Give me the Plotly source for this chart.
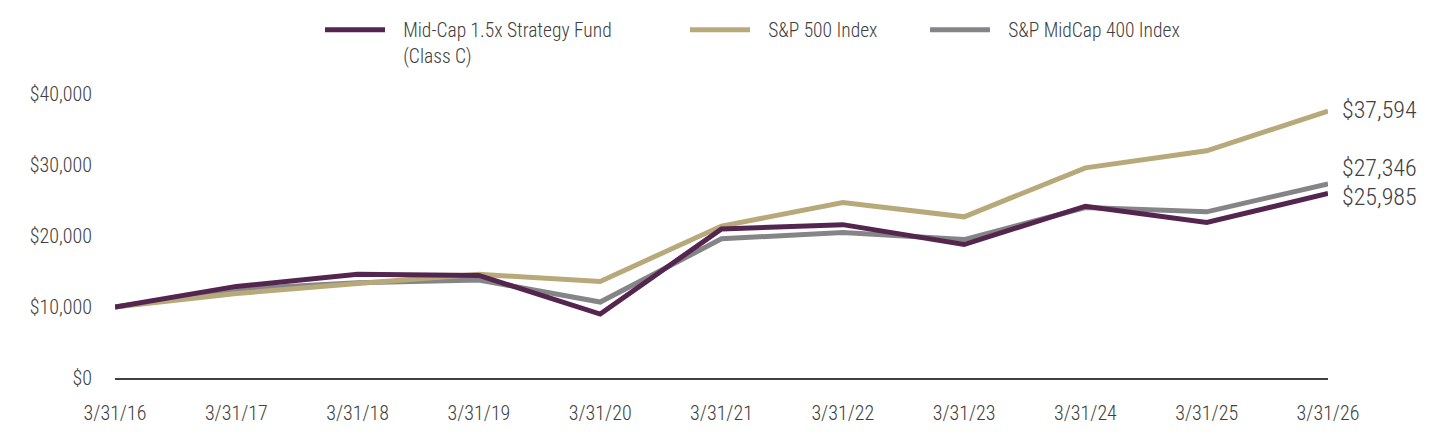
import plotly.graph_objects as go

dates = ["3/31/16", "3/31/17", "3/31/18", "3/31/19", "3/31/20", "3/31/21",
         "3/31/22", "3/31/23", "3/31/24", "3/31/25", "3/31/26"]
fund = [10000, 12900, 14600, 14450, 9000, 21000, 21600, 18800, 24200, 21900, 25985]
sp500 = [10000, 11900, 13300, 14600, 13600, 21400, 24700, 22700, 29600, 32000, 37594]
mid400 = [10000, 12500, 13400, 13800, 10700, 19600, 20500, 19500, 24000, 23400, 27346]

PAD = "\u00a0\u00a0\u00a0"
names = [PAD + "Mid-Cap 1.5x Strategy Fund<br>" + PAD + "(Class C)",
         PAD + "S&P 500 Index", PAD + "S&P MidCap 400 Index"]
colors = ["#54264f", "#b8a97b", "#858588"]
series = [fund, sp500, mid400]
end_labels = ["$25,985", "$37,594", "$27,346"]
label_shift = [-3, 1, 16]

FONT = "Roboto Condensed, Liberation Sans Narrow, Arial Narrow, sans-serif"
TXT = "#404040"

xs = list(range(len(dates)))
fig = go.Figure()
legend_ids = ["legend", "legend2", "legend3"]
for i in [2, 1, 0]:
    fig.add_trace(go.Scatter(
        x=xs, y=series[i], mode="lines", name=names[i],
        line=dict(color=colors[i], width=5),
        legend=legend_ids[i], cliponaxis=False,
        hoverinfo="skip"))

for i in range(3):
    fig.add_annotation(x=xs[-1], y=series[i][-1], text=end_labels[i],
                       xanchor="left", yanchor="middle", showarrow=False,
                       xshift=12, yshift=label_shift[i],
                       font=dict(family=FONT, size=24, color=TXT, weight=300))

W = 1213.0
def lx(px):
    return (px - 115) / W

leg_common = dict(orientation="v", xanchor="left", yanchor="top", yref="container",
                  y=0.976, font=dict(family=FONT, size=19.5, color=TXT, weight=300),
                  itemwidth=60, valign="top",
                  bgcolor="rgba(0,0,0,0)", borderwidth=0)
fig.update_layout(
    width=1440, height=444,
    margin=dict(l=115, r=112, t=94, b=66, autoexpand=False),
    paper_bgcolor="white", plot_bgcolor="white",
    font=dict(family=FONT, size=20, color=TXT, weight=300),
    showlegend=True,
    legend=dict(x=lx(320), **leg_common),
    legend2=dict(x=lx(685), **leg_common),
    legend3=dict(x=lx(925), **leg_common),
    xaxis=dict(range=[0, 10], tickmode="array", tickvals=xs, ticktext=dates,
               showgrid=False, zeroline=False, showline=True, linecolor="#404040",
               linewidth=2, ticks="", ticklabelstandoff=16,
               tickfont=dict(family=FONT, size=20, color=TXT, weight=300)),
    yaxis=dict(range=[0, 40000], tickmode="array",
               tickvals=[0, 10000, 20000, 30000, 40000],
               ticktext=["$0", "$10,000", "$20,000", "$30,000", "$40,000"],
               showgrid=False, zeroline=False, showline=False, ticks="",
               ticklabelstandoff=22,
               tickfont=dict(family=FONT, size=20, color=TXT, weight=300)),
)
fig.write_html("out.html")
